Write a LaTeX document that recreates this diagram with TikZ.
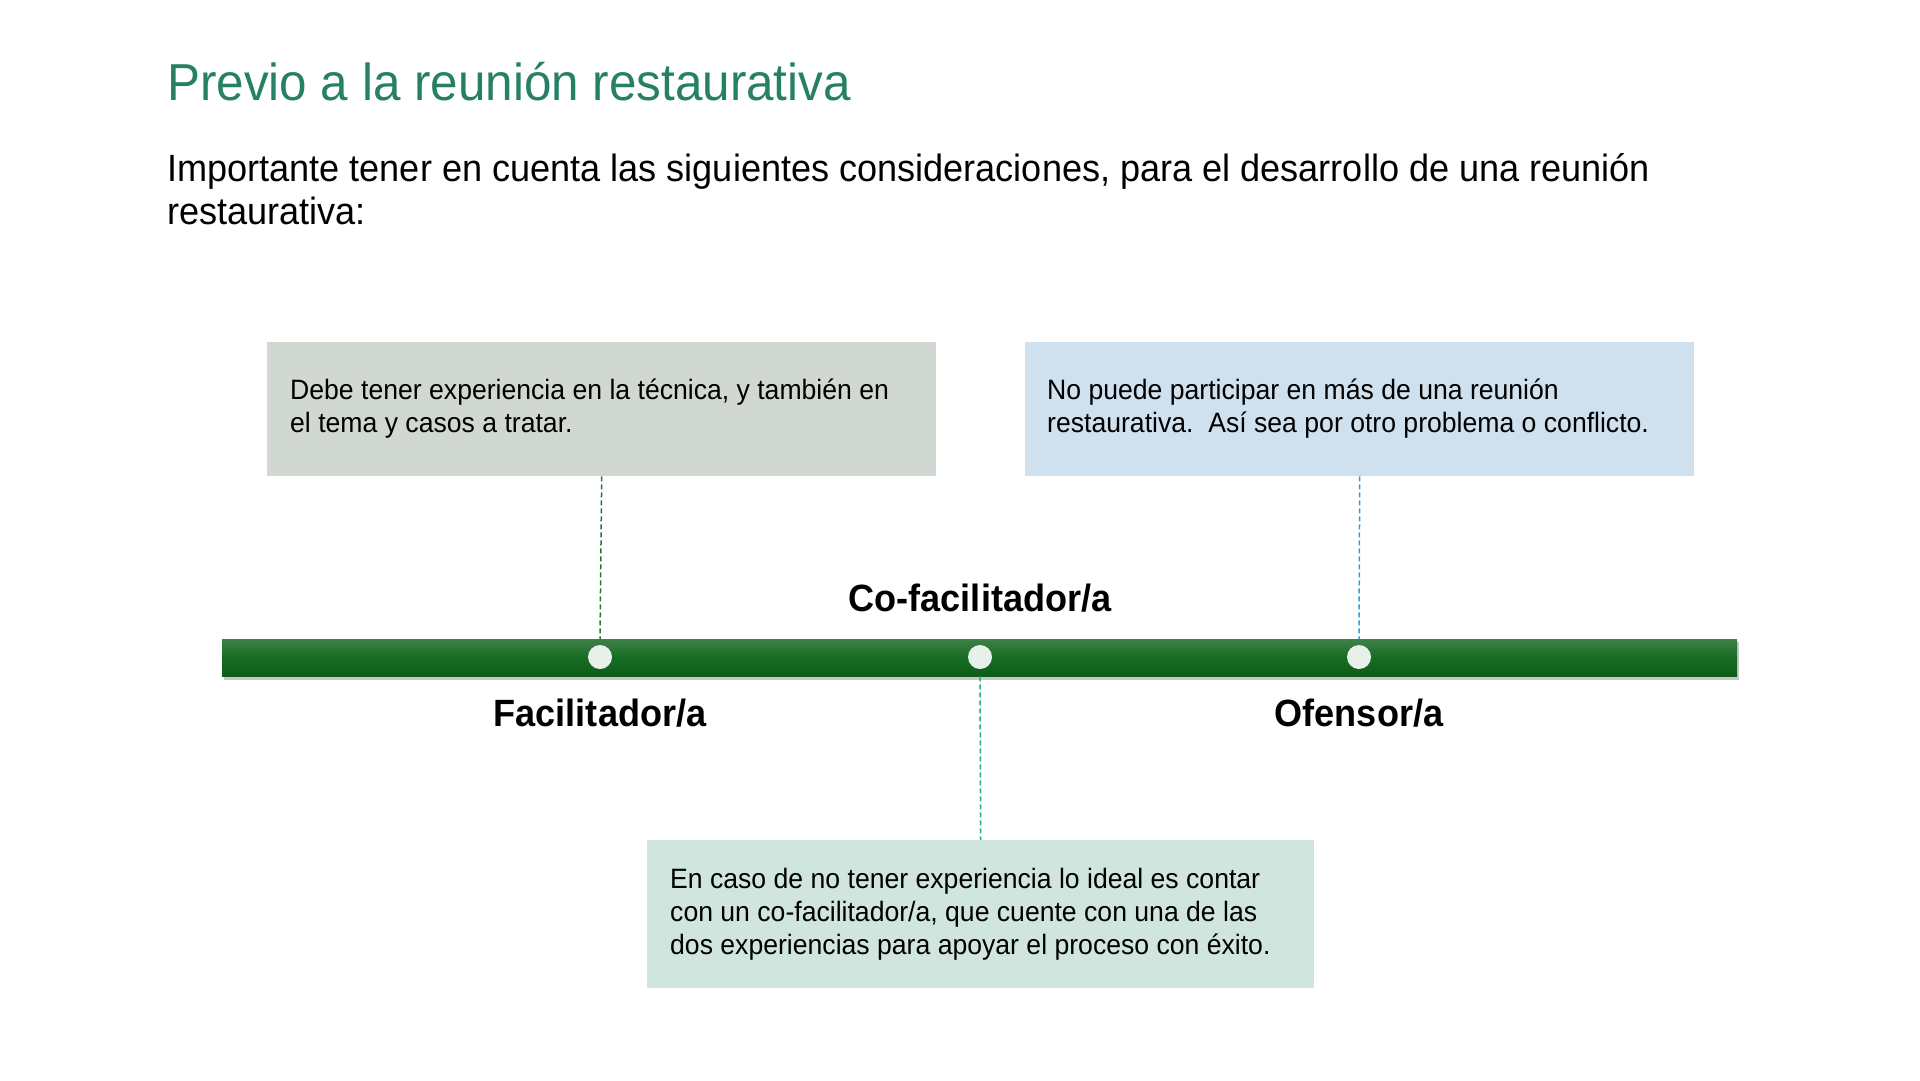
\documentclass[tikz,border=0pt]{standalone}
\usepackage{fontspec}
\setmainfont{Liberation Sans}[FakeStretch=0.95]
\usetikzlibrary{positioning}
\definecolor{tituloV}{RGB}{38,128,102}
\definecolor{cajaG}{RGB}{209,216,209}
\definecolor{cajaA}{RGB}{207,224,239}
\definecolor{cajaT}{RGB}{207,229,222}
\definecolor{barraSup}{RGB}{62,128,72}
\definecolor{barraV}{RGB}{22,108,34}
\definecolor{barraInf}{RGB}{14,92,26}
\definecolor{puntoC}{RGB}{232,240,234}
\definecolor{lineaV}{RGB}{34,120,60}
\definecolor{lineaA}{RGB}{40,160,225}
\definecolor{lineaT}{RGB}{40,170,130}
\tikzset{caja/.style={anchor=north west, inner sep=0pt},
  txtcaja/.style={anchor=base west, align=left, inner sep=0pt, font=\fontsize{28}{33}\selectfont},
  punto/.style={circle, fill=puntoC, minimum size=24pt, inner sep=0pt},
  rol/.style={font=\fontsize{38}{40}\selectfont\bfseries, inner sep=0pt},
  guia/.style={line width=1.5pt, dash pattern=on 5pt off 3pt}}

\begin{document}
\begin{tikzpicture}[x=1pt,y=-1pt]
\useasboundingbox (0,0) rectangle (1920,1080);
% encabezado
\node[anchor=base west, inner sep=0pt, text=tituloV, font=\fontsize{52}{58}\selectfont] (titulo) at (167,100) {Previo a la reunión restaurativa};
\node[anchor=base west, inner sep=0pt, align=left, font=\fontsize{38}{43}\selectfont] (intro) at (167,224)
  {Importante tener en cuenta las siguientes consideraciones, para el desarrollo de una reunión\\restaurativa:};
% cajas
\node[caja, fill=cajaG, minimum width=669pt, minimum height=134pt] (cajaFac) at (267,342) {};
\node[caja, fill=cajaA, minimum width=669pt, minimum height=134pt] (cajaOfe) at (1025,342) {};
\node[caja, fill=cajaT, minimum width=667pt, minimum height=148pt] (cajaCo) at (647,840) {};
\node[txtcaja] at (290,432) {Debe tener experiencia en la técnica, y también en\\el tema y casos a tratar.};
\node[txtcaja] at (1047,432) {No puede participar en más de una reunión\\restaurativa.\ \ Así sea por otro problema o conflicto.};
\node[txtcaja] at (670,954) {En caso de no tener experiencia lo ideal es contar\\con un co-facilitador/a, que cuente con una de las\\dos experiencias para apoyar el proceso con éxito.};
% linea de tiempo
\fill[black!22] (224,642) rectangle (1739,680);
\node[anchor=north west, minimum width=1515pt, minimum height=37pt, inner sep=0pt,
  top color=barraSup, bottom color=barraInf, middle color=barraV] (barra) at (222,639) {};
\node[punto] (pFac) at (600,657) {};
\node[punto] (pCo) at (980,657) {};
\node[punto] (pOfe) at (1359,657) {};
\node[rol] (rFac) at (600,713) {Facilitador/a};
\node[rol] (rCo) at (980,598) {Co-facilitador/a};
\node[rol] (rOfe) at (1359,713) {Ofensor/a};
% guias
\draw[guia, lineaV] (cajaFac.south) -- (pFac |- barra.north);
\draw[guia, lineaA] (cajaOfe.south) -- (pOfe |- barra.north);
\draw[guia, lineaT] (pCo |- barra.south) -- (cajaCo.north);
\end{tikzpicture}
\end{document}
